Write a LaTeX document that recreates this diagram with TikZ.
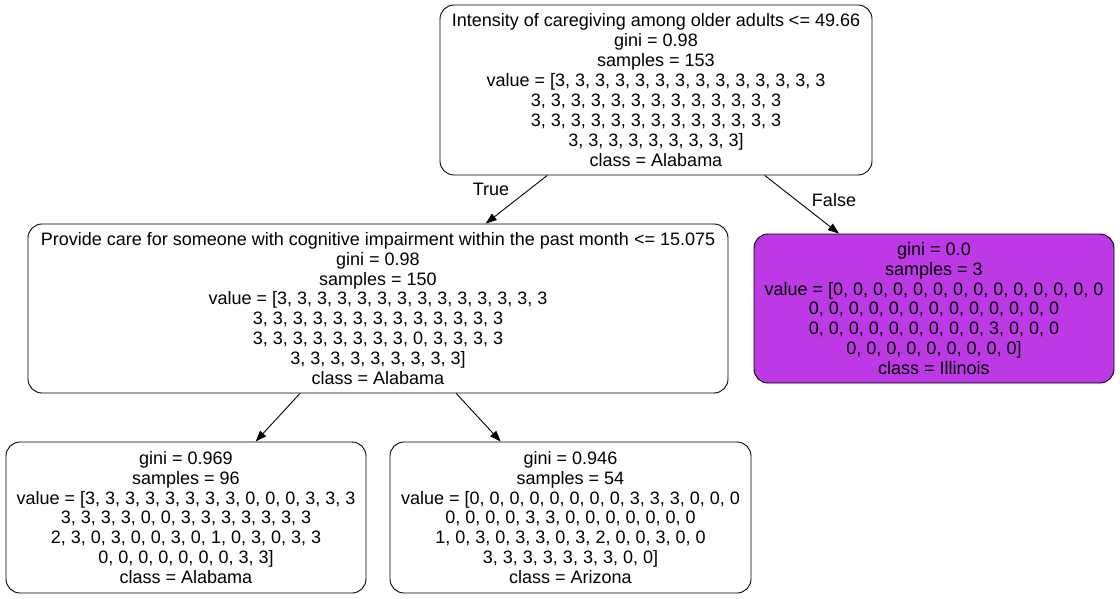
\documentclass[tikz,border=0pt]{standalone}
\usepackage{fontspec}
\setmainfont{Liberation Sans}
\usetikzlibrary{arrows.meta}
\definecolor{illinois}{HTML}{BC39E5}
\tikzset{
  treenode/.style={draw=black, line width=0.9pt, rounded corners=14pt, align=center,
    inner sep=0pt, font=\fontsize{18}{19.9}\selectfont},
  edge/.style={draw=black, line width=0.9pt, -{Triangle[length=11pt,width=8pt]}},
  elabel/.style={font=\fontsize{18}{19.9}\selectfont}
}
\begin{document}
\begin{tikzpicture}[x=1pt,y=-1pt]
\useasboundingbox (0,0) rectangle (1120,599);
\node[treenode, minimum width=432pt, minimum height=170pt] (root) at (656,90) {Intensity of caregiving among older adults <= 49.66\\gini = 0.98\\samples = 153\\value = [3, 3, 3, 3, 3, 3, 3, 3, 3, 3, 3, 3, 3, 3\\3, 3, 3, 3, 3, 3, 3, 3, 3, 3, 3, 3, 3\\3, 3, 3, 3, 3, 3, 3, 3, 3, 3, 3, 3, 3\\3, 3, 3, 3, 3, 3, 3, 3, 3]\\class = Alabama};
\node[treenode, minimum width=700pt, minimum height=169pt] (mid) at (378,308.5) {Provide care for someone with cognitive impairment within the past month <= 15.075\\gini = 0.98\\samples = 150\\value = [3, 3, 3, 3, 3, 3, 3, 3, 3, 3, 3, 3, 3, 3\\3, 3, 3, 3, 3, 3, 3, 3, 3, 3, 3, 3, 3\\3, 3, 3, 3, 3, 3, 3, 3, 0, 3, 3, 3, 3\\3, 3, 3, 3, 3, 3, 3, 3, 3]\\class = Alabama};
\node[treenode, fill=illinois, minimum width=360pt, minimum height=149pt] (ill) at (934,308.5) {gini = 0.0\\samples = 3\\value = [0, 0, 0, 0, 0, 0, 0, 0, 0, 0, 0, 0, 0, 0\\0, 0, 0, 0, 0, 0, 0, 0, 0, 0, 0, 0, 0\\0, 0, 0, 0, 0, 0, 0, 0, 0, 3, 0, 0, 0\\0, 0, 0, 0, 0, 0, 0, 0, 0]\\class = Illinois};
\node[treenode, minimum width=360pt, minimum height=151pt] (bl) at (186,517.5) {gini = 0.969\\samples = 96\\value = [3, 3, 3, 3, 3, 3, 3, 3, 0, 0, 0, 3, 3, 3\\3, 3, 3, 3, 0, 0, 3, 3, 3, 3, 3, 3, 3\\2, 3, 0, 3, 0, 0, 3, 0, 1, 0, 3, 0, 3, 3\\0, 0, 0, 0, 0, 0, 0, 3, 3]\\class = Alabama};
\node[treenode, minimum width=361pt, minimum height=151pt] (br) at (570.5,517.5) {gini = 0.946\\samples = 54\\value = [0, 0, 0, 0, 0, 0, 0, 0, 3, 3, 3, 0, 0, 0\\0, 0, 0, 0, 3, 3, 0, 0, 0, 0, 0, 0, 0\\1, 0, 3, 0, 3, 3, 0, 3, 2, 0, 0, 3, 0, 0\\3, 3, 3, 3, 3, 3, 3, 0, 0]\\class = Arizona};
\draw[edge] (root) -- (mid);
\draw[edge] (root) -- (ill);
\draw[edge] (mid) -- (bl);
\draw[edge] (mid) -- (br);
\node[elabel] (tl) at (491,189) {True};
\node[elabel] (fl) at (834,200) {False};
\end{tikzpicture}
\end{document}
